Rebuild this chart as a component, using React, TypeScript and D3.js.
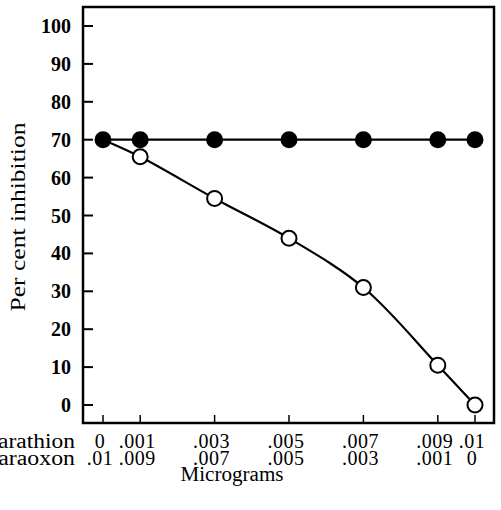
import React, { useEffect, useRef } from "react";
import * as d3 from "d3";

// parathion amount (micrograms) on the x axis; paraoxon is 0.01 minus it
const parathion = [0, 0.001, 0.003, 0.005, 0.007, 0.009, 0.01];
const parathionLabels = ["0", ".001", ".003", ".005", ".007", ".009", ".01"];
const paraoxonLabels = [".01", ".009", ".007", ".005", ".003", ".001", "0"];
const filledValues = [70, 70, 70, 70, 70, 70, 70];
const openValues = [70, 65.5, 54.5, 44, 31, 10.5, 0];
const yTicks = [0, 10, 20, 30, 40, 50, 60, 70, 80, 90, 100];

const FONT = "'Liberation Serif', 'Times New Roman', serif";

const App = () => {
  const svgRef = useRef<SVGSVGElement>(null);

  useEffect(() => {
    const svg = d3.select(svgRef.current);
    svg.selectAll("*").remove();

    const frame = { left: 83, top: 7, right: 494, bottom: 423 };
    const x = d3.scaleLinear().domain([0, 0.01]).range([103, 475]);
    const y = d3.scaleLinear().domain([0, 100]).range([405, 26]);

    // frame
    svg
      .append("rect")
      .attr("x", frame.left)
      .attr("y", frame.top)
      .attr("width", frame.right - frame.left)
      .attr("height", frame.bottom - frame.top)
      .attr("fill", "none")
      .attr("stroke", "#000")
      .attr("stroke-width", 2.5);

    // y ticks, pointing inward
    svg
      .append("g")
      .selectAll("line")
      .data(yTicks)
      .enter()
      .append("line")
      .attr("x1", frame.left)
      .attr("x2", frame.left + 10)
      .attr("y1", (d) => y(d))
      .attr("y2", (d) => y(d))
      .attr("stroke", "#000")
      .attr("stroke-width", 2);

    svg
      .append("g")
      .selectAll("text")
      .data(yTicks)
      .enter()
      .append("text")
      .attr("x", 71)
      .attr("y", (d) => y(d))
      .attr("dy", "0.35em")
      .attr("text-anchor", "end")
      .attr("font-family", FONT)
      .attr("font-weight", "bold")
      .attr("font-size", 20)
      .text((d) => d);

    // x ticks, pointing up from the bottom
    svg
      .append("g")
      .selectAll("line")
      .data(parathion)
      .enter()
      .append("line")
      .attr("x1", (d) => x(d))
      .attr("x2", (d) => x(d))
      .attr("y1", frame.bottom)
      .attr("y2", frame.bottom - 8)
      .attr("stroke", "#000")
      .attr("stroke-width", 1.5);

    const rows = [
      { name: "Parathion", labels: parathionLabels, y: 448 },
      { name: "Paraoxon", labels: paraoxonLabels, y: 465 },
    ];
    rows.forEach((row) => {
      svg
        .append("text")
        .attr("x", 75)
        .attr("y", row.y)
        .attr("text-anchor", "end")
        .attr("font-family", FONT)
        .attr("font-size", 20)
        .attr("textLength", 90)
        .attr("lengthAdjust", "spacingAndGlyphs")
        .text(row.name);
      svg
        .append("g")
        .selectAll("text")
        .data(row.labels)
        .enter()
        .append("text")
        .attr("x", (d, i) => x(parathion[i]))
        .attr("dx", -3)
        .attr("y", row.y)
        .attr("text-anchor", "middle")
        .attr("font-family", FONT)
        .attr("font-size", 20)
        .attr("letter-spacing", 0.5)
        .text((d) => d);
    });

    svg
      .append("text")
      .attr("x", 232)
      .attr("y", 481)
      .attr("text-anchor", "middle")
      .attr("font-family", FONT)
      .attr("font-size", 20)
      .attr("textLength", 103)
      .attr("lengthAdjust", "spacingAndGlyphs")
      .text("Micrograms");

    svg
      .append("text")
      .attr("transform", "translate(25,217) rotate(-90)")
      .attr("text-anchor", "middle")
      .attr("font-family", FONT)
      .attr("font-size", 20)
      .attr("textLength", 189)
      .attr("lengthAdjust", "spacingAndGlyphs")
      .text("Per cent inhibition");

    // lines
    const filledPts = parathion.map((d, i) => [x(d), y(filledValues[i])] as [number, number]);
    const openPts = parathion.map((d, i) => [x(d), y(openValues[i])] as [number, number]);

    svg
      .append("path")
      .attr("d", d3.line()(filledPts))
      .attr("fill", "none")
      .attr("stroke", "#000")
      .attr("stroke-width", 2.2);

    svg
      .append("path")
      .attr("d", d3.line().curve(d3.curveCatmullRom.alpha(0.5))(openPts))
      .attr("fill", "none")
      .attr("stroke", "#000")
      .attr("stroke-width", 2.2);

    // open circles (skip the first, it sits under the filled one)
    svg
      .append("g")
      .selectAll("circle")
      .data(openPts.slice(1))
      .enter()
      .append("circle")
      .attr("cx", (d) => d[0])
      .attr("cy", (d) => d[1])
      .attr("r", 7.5)
      .attr("fill", "#fff")
      .attr("stroke", "#000")
      .attr("stroke-width", 2);

    svg
      .append("g")
      .selectAll("circle")
      .data(filledPts)
      .enter()
      .append("circle")
      .attr("cx", (d) => d[0])
      .attr("cy", (d) => d[1])
      .attr("r", 8.5)
      .attr("fill", "#000");
  }, []);

  return (
    <svg
      ref={svgRef}
      width={501}
      height={510}
      style={{ position: "absolute", left: 0, top: 0, background: "#fff" }}
    ></svg>
  );
};

export default App;
